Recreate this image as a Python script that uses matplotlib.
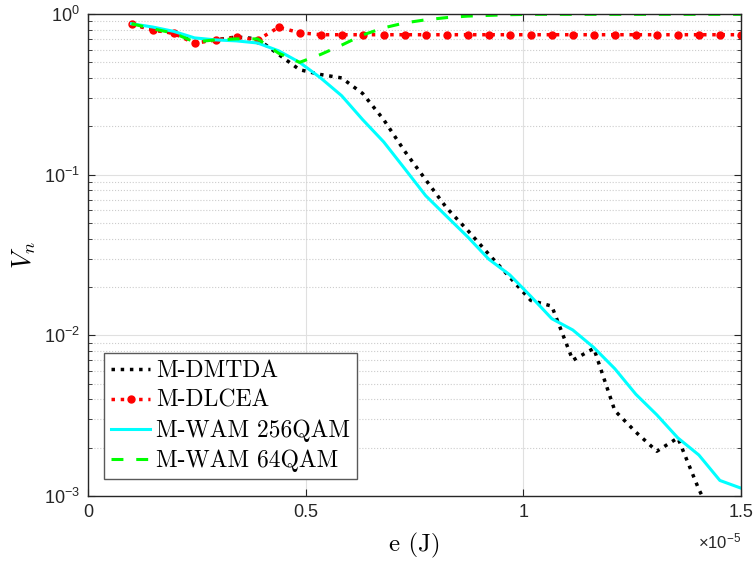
import numpy as np
import matplotlib
matplotlib.use("Agg")
import matplotlib.pyplot as plt
from matplotlib.ticker import FuncFormatter, LogLocator, NullFormatter

plt.rcParams['mathtext.fontset'] = 'cm'

# energy axis, 30 samples
e = np.linspace(1e-6, 1.5e-5, 30)

m_dmtda = [0.87, 0.80, 0.76, 0.67, 0.69, 0.72, 0.70, 0.56, 0.45, 0.42,
           0.40, 0.32, 0.22, 0.14, 0.093, 0.062, 0.045, 0.032, 0.023, 0.0165,
           0.0152, 0.0070, 0.0083, 0.0034, 0.0025, 0.0019, 0.0023, 0.0011, 0.0006, 0.0004]
m_dlcea = [0.863, 0.795, 0.758, 0.657, 0.689, 0.716, 0.689, 0.826, 0.765, 0.743,
           0.743, 0.743, 0.743, 0.743, 0.743, 0.743, 0.743, 0.743, 0.743, 0.743,
           0.743, 0.743, 0.743, 0.743, 0.743, 0.743, 0.743, 0.743, 0.743, 0.743]
m_wam256 = [0.87, 0.83, 0.78, 0.71, 0.69, 0.68, 0.66, 0.59, 0.50, 0.40,
            0.31, 0.22, 0.16, 0.109, 0.074, 0.055, 0.041, 0.0298, 0.0238, 0.0175,
            0.0127, 0.0108, 0.0084, 0.0062, 0.0043, 0.0032, 0.0023, 0.0018, 0.00125, 0.00112]
m_wam64 = [0.87, 0.81, 0.76, 0.67, 0.69, 0.70, 0.70, 0.57, 0.50, 0.56,
           0.64, 0.74, 0.82, 0.88, 0.92, 0.95, 0.97, 0.98, 0.99, 0.995,
           0.995, 0.995, 0.995, 0.995, 0.995, 0.995, 0.995, 0.995, 0.995, 0.995]

fig = plt.figure(figsize=(7.56, 5.62), dpi=100)
ax = fig.add_axes([0.1164, 0.1174, 0.8636, 0.8577])

ax.plot(e, m_dmtda, color='k', linestyle=':', linewidth=2.5, label='M-DMTDA')
ax.plot(e, m_dlcea, color='r', linestyle=':', linewidth=2.5, marker='o',
        markersize=5, label='M-DLCEA')
ax.plot(e, m_wam256, color=(0, 1, 1), linestyle='-', linewidth=2.2, label='M-WAM 256QAM')
ax.plot(e, m_wam64, color=(0, 1, 0), linestyle=(0, (3.9, 4.2)), linewidth=2.2,
        label='M-WAM 64QAM')

ax.set_yscale('log')
ax.set_xlim(0, 1.5e-5)
ax.set_ylim(1e-3, 1)
ax.set_xticks([0, 0.5e-5, 1e-5, 1.5e-5])
ax.xaxis.set_major_formatter(FuncFormatter(lambda v, p: '%g' % (v / 1e-5)))
ax.yaxis.set_major_locator(LogLocator(base=10, numticks=10))
ax.yaxis.set_minor_locator(LogLocator(base=10, subs=np.arange(2, 10), numticks=10))
ax.yaxis.set_minor_formatter(NullFormatter())
ax.yaxis.set_major_formatter(FuncFormatter(
    lambda v, p: r'$\mathregular{10^{%d}}$' % int(round(np.log10(v)))))

tick_font = ['Liberation Sans', 'DejaVu Sans']
for lab in ax.get_xticklabels() + ax.get_yticklabels():
    lab.set_fontfamily(tick_font)
    lab.set_fontsize(13)
ax.tick_params(which='both', direction='in', top=True, right=True, colors='0.15')
ax.tick_params(which='major', length=5, pad=6)
ax.tick_params(which='minor', length=3)

ax.grid(True, which='major', color='0.88', linestyle='-', linewidth=0.8)
ax.grid(True, which='minor', axis='y', color='0.8', linestyle=':', linewidth=0.8)
ax.set_axisbelow(True)
for s in ax.spines.values():
    s.set_color('0.15')
    s.set_linewidth(1.0)

ax.set_xlabel('e (J)', fontfamily='cmr10', fontsize=18, labelpad=8)
ax.set_ylabel(r'$V_n$', fontsize=19, labelpad=4)
ax.text(1.0, -0.095, r'$\mathregular{\times 10^{-5}}$', transform=ax.transAxes,
        ha='right', va='center', fontsize=12, fontfamily=tick_font, color='0.15')

leg = ax.legend(loc='lower left', bbox_to_anchor=(0.0245, 0.035), fancybox=False,
                framealpha=1, edgecolor='0.35', borderaxespad=0,
                prop={'family': 'cmr10', 'size': 17}, handlelength=1.65,
                labelspacing=0.32, handletextpad=0.25, borderpad=0.3)
leg.get_frame().set_linewidth(1.0)

fig.savefig('out.png', dpi=100)
